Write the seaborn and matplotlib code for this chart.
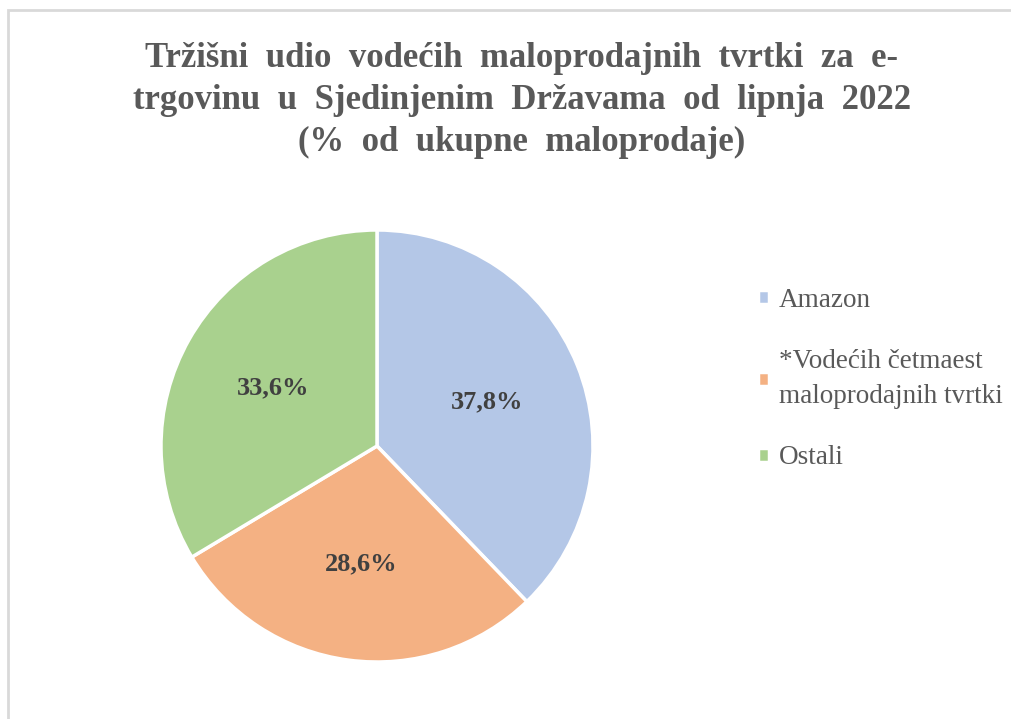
import matplotlib
matplotlib.use("Agg")
import seaborn as sns
from matplotlib import pyplot as plt
from matplotlib.patches import Rectangle

labels = ["Amazon", "*Vodećih četmaest\nmaloprodajnih tvrtki", "Ostali"]
shares = [37.8, 28.6, 33.6]
colors = ["#B4C7E7", "#F4B183", "#A9D18E"]
title = ("Tržišni  udio  vodećih  maloprodajnih  tvrtki  za  e-\n"
         "trgovinu  u  Sjedinjenim  Državama  od  lipnja  2022\n"
         "(%  od  ukupne  maloprodaje)")

sns.set_theme(style="white")
plt.rcParams["font.family"] = ["Liberation Serif", "DejaVu Serif"]

fig = plt.figure(figsize=(10.11, 7.19), dpi=100)
fig.patch.set_facecolor("white")

# light gray chart frame (only top and left edges visible)
fig.patches.append(Rectangle((8 / 1011, -0.1), 1.2, 1 - 10 / 719 + 0.1,
                             transform=fig.transFigure, fill=False,
                             edgecolor="#D9D9D9", linewidth=2))

ax = fig.add_axes([161 / 1011, 57 / 719, 432 / 1011, 432 / 719])
wedges, texts, autotexts = ax.pie(
    shares, colors=colors, startangle=90, counterclock=False,
    autopct=lambda p: f"{p:.1f}%".replace(".", ","), pctdistance=0.55,
    wedgeprops=dict(edgecolor="white", linewidth=2.5),
    textprops=dict(fontsize=19, fontweight="bold", color="#404040"))
ax.set_xlim(-1.0, 1.0)
ax.set_ylim(-1.0, 1.0)
ax.set_aspect("equal")

fig.text(0.516, 1 - 42 / 719, title, ha="center", va="top", fontsize=25,
         fontweight="bold", color="#595959", linespacing=1.36)

leg = fig.legend(wedges, labels, loc="upper left",
                 bbox_to_anchor=(747 / 1011, 1 - 277 / 719), frameon=False,
                 fontsize=19.5, labelcolor="#595959", handlelength=0.42,
                 handleheight=0.42, handletextpad=0.35, labelspacing=1.35,
                 borderaxespad=0)
for t in leg.get_texts():
    t.set_linespacing(1.5)

fig.savefig("out.png", dpi=100)
